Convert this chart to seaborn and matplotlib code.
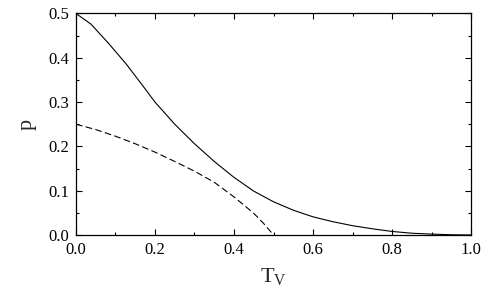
import numpy as np
import pandas as pd
import matplotlib
matplotlib.use("Agg")
import matplotlib.pyplot as plt
import seaborn as sns

# ─────────────────────────────────────────────────────────────────────────────
# DATA
# ─────────────────────────────────────────────────────────────────────────────
tv_solid = [0.0, 0.038, 0.084, 0.127, 0.169, 0.2, 0.25, 0.3, 0.35, 0.4,
            0.45, 0.5, 0.55, 0.6, 0.65, 0.7, 0.75, 0.8, 0.85, 0.9, 0.95, 1.0]
p_solid = [0.500, 0.476, 0.431, 0.386, 0.337, 0.300, 0.250, 0.206, 0.166,
           0.130, 0.099, 0.075, 0.056, 0.041, 0.030, 0.021, 0.014, 0.008,
           0.004, 0.002, 0.0005, 0.0]

tv_dashed = [0.0, 0.05, 0.1, 0.15, 0.2, 0.25, 0.3, 0.35, 0.4, 0.45, 0.475, 0.5]
p_dashed = [0.250, 0.238, 0.223, 0.206, 0.187, 0.166, 0.144, 0.119, 0.086,
            0.049, 0.026, 0.0]

x_ticks = [0.0, 0.2, 0.4, 0.6, 0.8, 1.0]
y_ticks = [0.0, 0.1, 0.2, 0.3, 0.4, 0.5]

df = pd.concat([
    pd.DataFrame({"Tv": tv_solid, "p": p_solid, "curve": "solid"}),
    pd.DataFrame({"Tv": tv_dashed, "p": p_dashed, "curve": "dashed"}),
])

# ─────────────────────────────────────────────────────────────────────────────
# STYLE
# ─────────────────────────────────────────────────────────────────────────────
sns.set_theme(style="ticks")
plt.rcParams["font.family"] = ["Liberation Serif", "DejaVu Serif"]
plt.rcParams["mathtext.fontset"] = "custom"
plt.rcParams["mathtext.rm"] = "Liberation Serif"

fig = plt.figure(figsize=(4.98, 3.02), dpi=100)
ax = fig.add_axes([0.1526, 0.2219, 0.7932, 0.7334])

sns.lineplot(
    data=df, x="Tv", y="p", style="curve",
    dashes={"solid": "", "dashed": (6, 3)},
    color="black", linewidth=0.8, legend=False, ax=ax,
    sort=False, estimator=None,
)

ax.set_xlim(0, 1)
ax.set_ylim(0, 0.5)
ax.set_xticks(x_ticks)
ax.set_yticks(y_ticks)
ax.set_xticklabels([f"{v:.1f}" for v in x_ticks])
ax.set_yticklabels([f"{v:.1f}" for v in y_ticks])
ax.xaxis.set_minor_locator(matplotlib.ticker.MultipleLocator(0.1))
ax.yaxis.set_minor_locator(matplotlib.ticker.MultipleLocator(0.05))
ax.tick_params(which="both", direction="in", top=True, right=True,
               labelsize=12, width=0.8, colors="black", pad=5)
ax.tick_params(which="major", length=4)
ax.tick_params(which="minor", length=2.2)
for s in ax.spines.values():
    s.set_linewidth(0.9)
    s.set_color("black")

ax.set_xlabel(r"T$_{\mathrm{V}}$", fontsize=16, labelpad=6)
ax.set_ylabel("p", fontsize=16, labelpad=8)

fig.savefig("out.png", dpi=100)
